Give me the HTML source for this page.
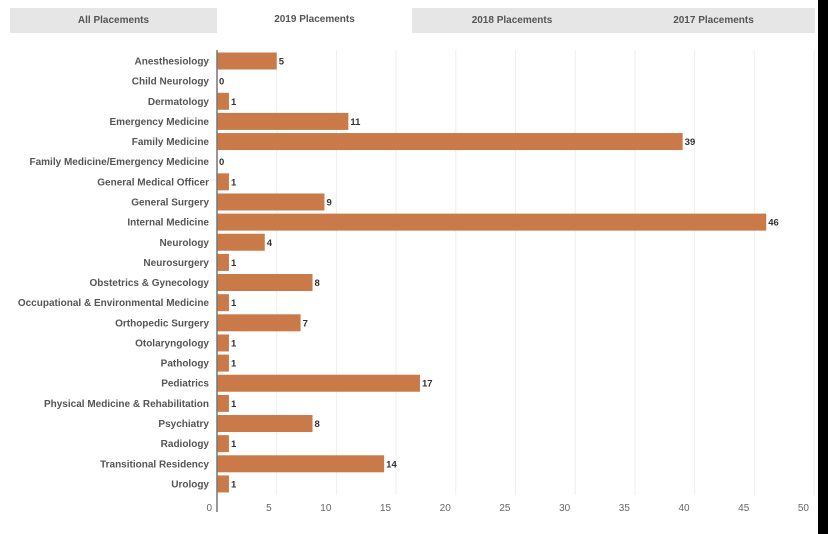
<!DOCTYPE html>
<html><head><meta charset="utf-8"><style>
body{margin:0;width:828px;height:534px;background:#fff;overflow:hidden;position:relative;font-family:"Liberation Sans",sans-serif}
.tabs{position:absolute;left:10px;top:8px;width:805px;height:25px;background:#e6e6e6}
.tab{position:absolute;top:0;height:25px;line-height:25px;text-align:center;font-size:10px;color:#555;font-weight:bold}
.tab.active{background:#fff;top:-1px;height:26px}
</style></head><body>
<div class="tabs">
<div class="tab" style="left:0;width:207px">All Placements</div>
<div class="tab active" style="left:207px;width:195px">2019 Placements</div>
<div class="tab" style="left:402px;width:200px">2018 Placements</div>
<div class="tab" style="left:602px;width:203px">2017 Placements</div>
</div>
<svg id="chart" width="828" height="534" style="position:absolute;left:0;top:0"></svg>
<div style="position:absolute;left:818px;top:0;width:10px;height:534px;background:#000"></div>
<script>
const categories=["Anesthesiology","Child Neurology","Dermatology","Emergency Medicine","Family Medicine","Family Medicine/Emergency Medicine","General Medical Officer","General Surgery","Internal Medicine","Neurology","Neurosurgery","Obstetrics & Gynecology","Occupational & Environmental Medicine","Orthopedic Surgery","Otolaryngology","Pathology","Pediatrics","Physical Medicine & Rehabilitation","Psychiatry","Radiology","Transitional Residency","Urology"];
const values=[5,0,1,11,39,0,1,9,46,4,1,8,1,7,1,1,17,1,8,1,14,1];
const ticks=[0,5,10,15,20,25,30,35,40,45,50];
const svg=document.getElementById('chart');
const NS='http://www.w3.org/2000/svg';
const x0=217,x1=814,xmax=50;
const x=v=>x0+(x1-x0)*v/xmax;
const y=i=>61+i*20.14;
function mk(t,a){const e=document.createElementNS(NS,t);for(const k in a)e.setAttribute(k,a[k]);svg.appendChild(e);return e;}
ticks.forEach(t=>{
 if(t>0){const g=mk('line',{x1:x(t),x2:x(t),y1:50,y2:495,stroke:'#eee','stroke-width':1});
 
 }
 const l=mk('text',{x:x(t)-5,y:511,'text-anchor':'end','font-size':10,fill:'#666'});
 l.textContent=t;
 
 
});
categories.forEach((c,i)=>{
 const l=mk('text',{x:209,y:y(i)+3.5,'text-anchor':'end','font-size':10,'font-weight':'bold',fill:'#555'});
 l.textContent=c;
 
 
 const b=mk('rect',{x:x0,y:y(i)-8.5,width:x(values[i])-x0,height:17,fill:'#c97a48'});
 
 
 const v=mk('text',{x:x(values[i])+2,y:y(i)+3.5,'font-size':9.5,'font-weight':'bold',fill:'#333'});
 v.textContent=values[i];
 
 
});
const ax=mk('line',{x1:x0,x2:x0,y1:50,y2:512,stroke:'#777','stroke-width':1.5});


</script>
</body></html>
